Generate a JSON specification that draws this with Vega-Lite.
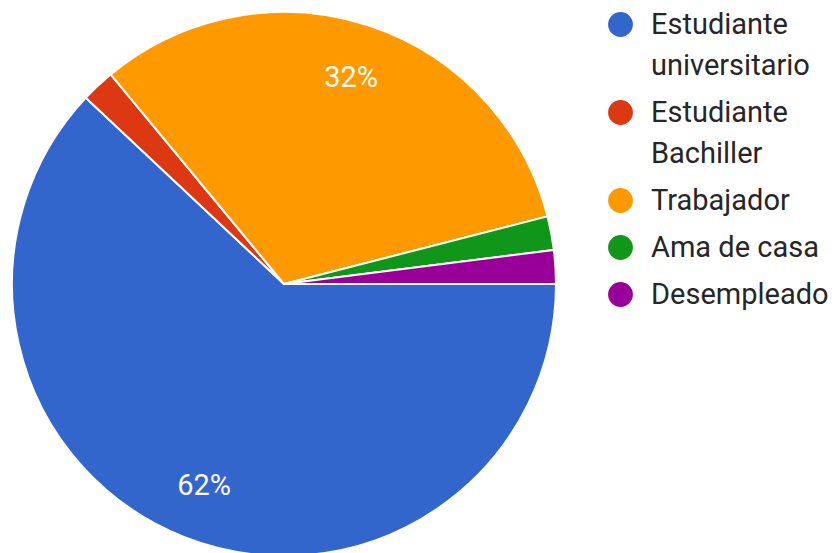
{
  "$schema": "https://vega.github.io/schema/vega-lite/v6.json",
  "width": 568,
  "height": 568,
  "padding": 0,
  "background": "#ffffff",
  "data": {
    "values": [
      {"ocupacion": "Estudiante universitario", "pct": 62},
      {"ocupacion": "Estudiante Bachiller", "pct": 2},
      {"ocupacion": "Trabajador", "pct": 32},
      {"ocupacion": "Ama de casa", "pct": 2},
      {"ocupacion": "Desempleado", "pct": 2}
    ]
  },
  "transform": [
    {"window": [{"op": "row_number", "as": "idx"}]},
    {"calculate": "datum.pct >= 10 ? datum.pct + '%' : ''", "as": "lbl"}
  ],
  "encoding": {
    "theta": {"field": "pct", "type": "quantitative", "stack": true, "scale": {"range": [1.5707963, 7.8539816]}},
    "order": {"field": "idx", "type": "quantitative", "sort": "ascending"},
    "color": {
      "field": "ocupacion",
      "type": "nominal",
      "sort": null,
      "scale": {
        "domain": ["Estudiante universitario", "Estudiante Bachiller", "Trabajador", "Ama de casa", "Desempleado"],
        "range": ["#3366cc", "#dc3912", "#ff9900", "#109618", "#990099"]
      },
      "legend": {
        "orient": "none",
        "legendX": 606,
        "legendY": 10,
        "title": null,
        "labelExpr": "datum.label == 'Estudiante universitario' ? ['Estudiante', 'universitario'] : datum.label == 'Estudiante Bachiller' ? ['Estudiante', 'Bachiller'] : datum.label",
        "encoding": {"labels": {"lineHeight": {"value": 41}}}
      }
    }
  },
  "layer": [
    {
      "mark": {"type": "arc", "radius": 272, "stroke": "#ffffff", "strokeWidth": 2}
    },
    {
      "mark": {"type": "text", "radius": 217, "font": "Roboto", "fontSize": 29, "fill": "#fbfaf5", "align": "center", "baseline": "middle"},
      "encoding": {"text": {"field": "lbl"}, "color": {"value": "#fbfaf5"}}
    }
  ],
  "config": {
    "view": {"stroke": null},
    "legend": {
      "symbolType": "circle",
      "symbolSize": 616,
      "symbolStrokeWidth": 0,
      "symbolOpacity": 1,
      "labelFont": "Roboto",
      "labelFontSize": 29,
      "labelColor": "#262626",
      "labelLimit": 400,
      "labelOffset": 16,
      "rowPadding": 17,
      "padding": 0
    }
  }
}
